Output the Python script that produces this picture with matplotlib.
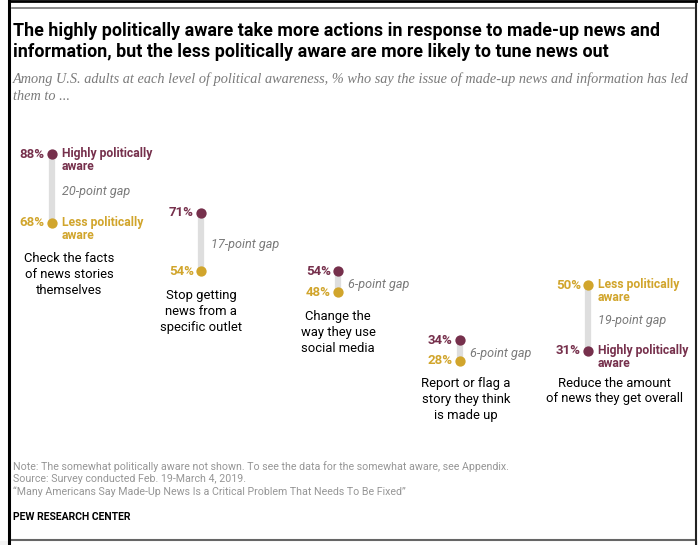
import matplotlib.pyplot as plt
from matplotlib.lines import Line2D
from matplotlib.patches import Rectangle

# data
actions = ["Check the facts\nof news stories\nthemselves",
           "Stop getting\nnews from a\nspecific outlet",
           "Change the\nway they use\nsocial media",
           "Report or flag a\nstory they think\nis made up",
           "Reduce the amount\nof news they get overall"]
highly = [88, 71, 54, 34, 31]
less = [68, 54, 48, 28, 50]

# layout (pixels)
W, H = 698, 545
xpos = [52, 201, 338, 460, 588]
label_x = [69, 201, 338, 466, 615]
label_drop = [34, 23, 23, 21, 31]
key_groups = [0, 4]

MAROON = "#76304c"
GOLD = "#d1a52c"
GRAY_TXT = "#7a7a7a"

narrow = ["Roboto", "DejaVu Sans"]
serif = ["Liberation Serif", "DejaVu Serif"]

fig = plt.figure(figsize=(W / 100, H / 100), dpi=100)
ax = fig.add_axes([0, 0, 1, 1])
ax.set_xlim(0, W)
# value v sits at pixel row 457.6 - 3.45 v
ax.set_ylim(-87.4 / 3.45, (H - 87.4) / 3.45)
ax.axis("off")


def fx(x):
    return x / W


def fy(y):
    return 1 - y / H


# frame
fig.add_artist(Rectangle((0, 0), 1, fy(541), transform=fig.transFigure,
                         color="#f3f3f3", zorder=0))
fig.add_artist(Rectangle((fx(9), 0), fx(687), 1, transform=fig.transFigure,
                         facecolor="white", edgecolor="none", zorder=0))
for (x0, x1, y0, y1, c, lw) in [(9, 9, 0, 545, "black", 2.2),
                                (696, 696, 0, 545, "#222222", 1.5),
                                (9, 696, 0.5, 0.5, "black", 2),
                                (12, 694, 8, 8, "#777777", 1.2),
                                (12, 694, 540, 540, "#666666", 1.5)]:
    fig.add_artist(Line2D([fx(x0), fx(x1)], [fy(y0), fy(y1)], color=c, lw=lw,
                          transform=fig.transFigure))

# header
fig.text(fx(13), fy(31), "The highly politically aware take more actions in response to made-up news and",
         family=narrow, weight="bold", fontsize=12.9, va="center")
fig.text(fx(13), fy(52), "information, but the less politically aware are more likely to tune news out",
         family=narrow, weight="bold", fontsize=12.9, va="center")
fig.text(fx(13), fy(79), "Among U.S. adults at each level of political awareness, % who say the issue of made-up news and information has led",
         family=serif, style="italic", fontsize=10.3, color=GRAY_TXT, va="center")
fig.text(fx(13), fy(97), "them to ...",
         family=serif, style="italic", fontsize=10.3, color=GRAY_TXT, va="center")

for i, (h, l) in enumerate(zip(highly, less)):
    x = xpos[i]
    ax.plot([x, x], [h, l], color="#dedede", lw=4.5, solid_capstyle="butt", zorder=1)
    ax.scatter([x], [h], s=55, color=MAROON, zorder=3, linewidths=0)
    ax.scatter([x], [l], s=55, color=GOLD, zorder=3, linewidths=0)
    for v, c in [(h, MAROON), (l, GOLD)]:
        ax.annotate(f"{v}%", (x, v), xytext=(-7, 0), textcoords="offset pixels",
                    ha="right", va="center", color=c, weight="bold",
                    family=narrow, fontsize=9.5)
        if i in key_groups:
            txt = "Highly politically\naware" if c == MAROON else "Less politically\naware"
            ax.annotate(txt, (x, v), xytext=(10, 7), textcoords="offset pixels",
                        ha="left", va="top", color=c, weight="bold",
                        family=narrow, fontsize=8.7, linespacing=1.0)
    ax.annotate(f"{abs(h - l)}-point gap", (x, (h + l) / 2), xytext=(10, -3),
                textcoords="offset pixels", ha="left", va="center",
                color=GRAY_TXT, style="italic", family=narrow, fontsize=9.1)
    ax.annotate(actions[i], (label_x[i], min(h, l)), xytext=(0, -label_drop[i] + 5),
                textcoords="offset pixels", ha="center", va="top",
                family=narrow, fontsize=9.4, linespacing=1.28)

# footer
notes = ["Note: The somewhat politically aware not shown. To see the data for the somewhat aware, see Appendix.",
         "Source: Survey conducted Feb. 19-March 4, 2019.",
         "\u201cMany Americans Say Made-Up News Is a Critical Problem That Needs To Be Fixed\u201d"]
for k, t in enumerate(notes):
    fig.text(fx(13), fy(467 + 12.5 * k), t, family=narrow, fontsize=7.7,
             color="#969696", va="center")
fig.text(fx(13), fy(517), "PEW RESEARCH CENTER", family=narrow, weight="bold",
         fontsize=7.5, va="center")

fig.savefig("out.png", dpi=100)
